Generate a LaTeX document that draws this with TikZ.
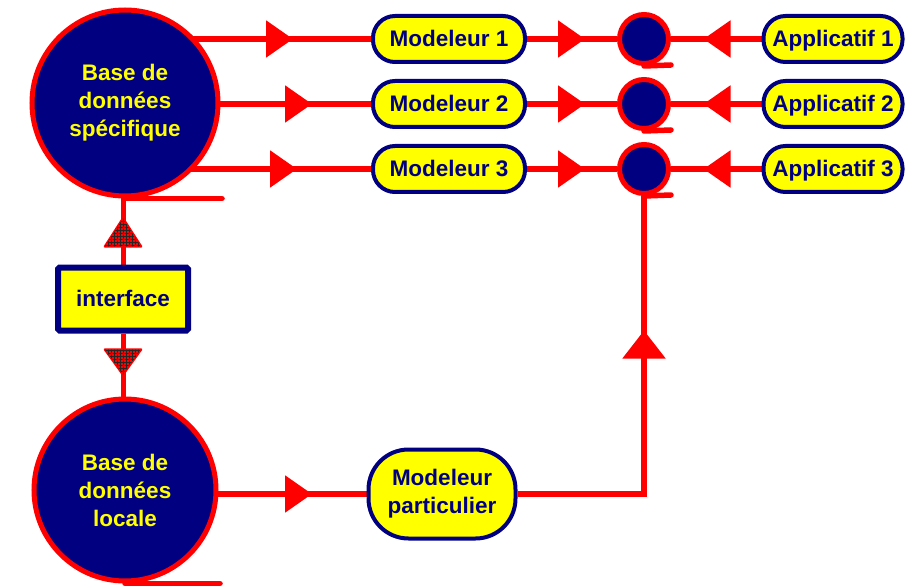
\documentclass[tikz,border=0pt]{standalone}
\usepackage{fontspec}
\setmainfont{Liberation Sans}
\usetikzlibrary{arrows.meta,decorations.markings,patterns,calc}
\definecolor{navyblue}{RGB}{0,0,128}
\definecolor{brightred}{RGB}{255,0,0}
\definecolor{brightyellow}{RGB}{255,255,0}
\pgfdeclarelayer{bg}
\pgfsetlayers{bg,main}
\tikzset{
  txt/.style={font=\fontsize{22.5}{28}\selectfont\bfseries, align=center},
  dbcircle/.style={circle, txt, fill=navyblue, draw=brightred, line width=5pt,
    text=brightyellow, minimum size=#1, inner sep=0pt},
  joint/.style={circle, fill=navyblue, draw=brightred, line width=5pt,
    minimum size=49pt, inner sep=0pt},
  pill/.style={txt, fill=brightyellow, draw=navyblue, line width=4pt, text=navyblue,
    rounded corners=22pt, minimum height=46pt, inner sep=6pt},
  oneline/.style={text height=16pt, text depth=1pt},
  ifacebox/.style={txt, fill=brightyellow, draw=navyblue, line width=6pt, text=navyblue,
    rounded corners=1.5pt, minimum width=130pt, minimum height=63pt, oneline},
  link/.style={draw=brightred, line width=5.5pt},
  tail/.style={draw=brightred, line width=5.5pt, line cap=round},
  midarrow/.style={postaction={decorate, decoration={markings,
    mark=at position #1 with {\arrow{Triangle[length=27pt,width=36pt]}}}}},
  widearrow/.style={postaction={decorate, decoration={markings,
    mark=at position #1 with {\arrow{Triangle[length=28pt,width=42pt]}}}}},
  hatchtri/.style={draw=brightred, line width=2.5pt, line join=round, fill=brightred,
    postaction={pattern=grid, pattern color=black!85}},
}
\begin{document}
\begin{tikzpicture}[x=1pt, y=1pt]
\useasboundingbox (0,0) rectangle (909,587);

% databases
\node[dbcircle=186pt] (bdS) at (125,484) {Base de\\données\\spécifique};
\node[dbcircle=182pt] (bdL) at (125,97) {Base de\\données\\locale};

% interface between the two databases
\node[ifacebox] (iface) at (123,288) {interface};

% modellers, junctions and applications
\foreach \i/\y in {1/548, 2/483, 3/418} {
  \node[pill, oneline, minimum width=152pt] (m\i) at (449,\y) {Modeleur \i};
  \node[joint] (c\i) at (644,\y) {};
  \node[pill, oneline, minimum width=139pt] (a\i) at (833,\y) {Applicatif \i};
}
\node[pill, minimum width=147pt, minimum height=89pt, rounded corners=40pt]
  (mp) at (442,93) {Modeleur\\particulier};
\coordinate (bend) at (c3 |- mp);

% connectors
\begin{pgfonlayer}{bg}
  \draw[link, midarrow=168pt] (bdS.center |- m1) -- (m1);
  \draw[link, midarrow=187pt] (bdS.center |- m2) -- (m2);
  \draw[link, midarrow=172pt] (bdS.center |- m3) -- (m3);
  \foreach \i in {1,2,3} {
    \draw[link, midarrow=58pt] (m\i.east) -- (c\i.west);
    \draw[link, midarrow=58pt] (a\i.west) -- (c\i.east);
  }
  \draw[link, midarrow=187pt] (bdL.center |- mp) -- (mp);
  \draw[link, widearrow=290pt] (mp.east) -- (bend) -- (c3.south);
  \draw[link, line width=5pt] (iface.north) -- (iface.north |- bdS.south);
  \draw[link, line width=5pt] (iface.south) -- (iface.south |- bdL.north);
\end{pgfonlayer}

% hatched arrowheads on the interface links
\draw[hatchtri] ([shift={(-18pt,18pt)}]iface.north) -- ([shift={(18pt,18pt)}]iface.north)
  -- ([yshift=46pt]iface.north) -- cycle;
\draw[hatchtri] ([shift={(-18pt,-16pt)}]iface.south) -- ([shift={(18pt,-16pt)}]iface.south)
  -- ([yshift=-41pt]iface.south) -- cycle;

% circle tails
\draw[tail] (bdS.south) -- ++(97,0);
\draw[tail] (bdL.south) -- ++(95,0);
\foreach \i in {1,2,3} \draw[tail] (c\i.south) -- ++(27,1);
\end{tikzpicture}
\end{document}
